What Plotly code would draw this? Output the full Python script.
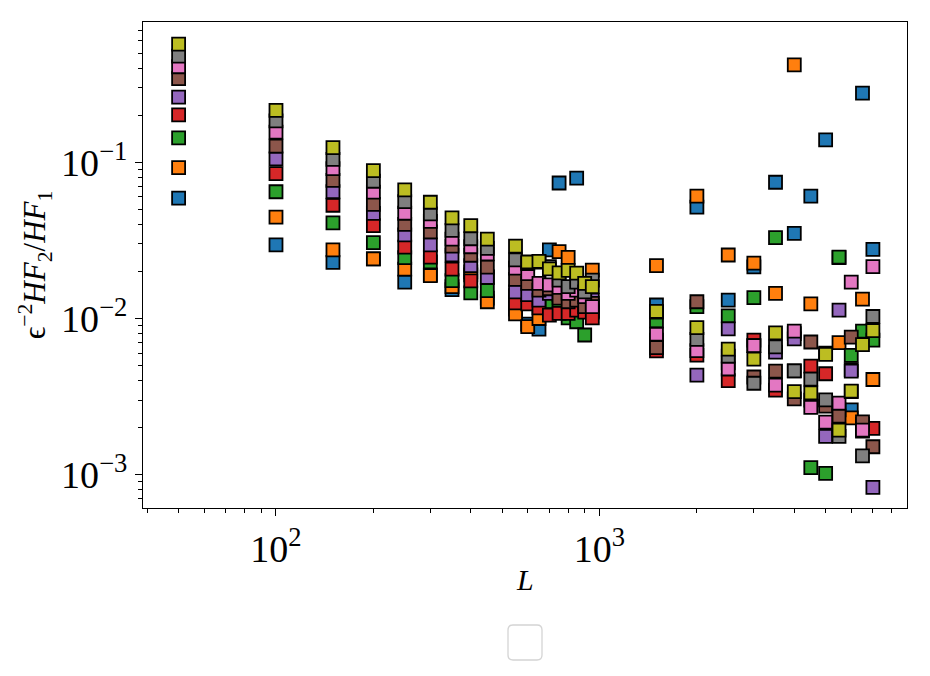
import plotly.graph_objects as go

L = [50, 100, 150, 200, 250, 300, 350, 400, 450, 550, 600, 650, 700, 750, 800, 850, 900, 950,
     1500, 2000, 2500, 3000, 3500, 4000, 4500, 5000, 5500, 6000, 6500, 7000]

blue = [0.0589, 0.0296, 0.0229, 0.0241, 0.0171, 0.0190, 0.0153, 0.0190, 0.0135, 0.0115, 0.0092, 0.00856,
        0.0275, 0.0737, 0.0120, 0.0793, 0.0115, 0.0110,
        0.0122, 0.0517, 0.0131, 0.0214, 0.0745, 0.0351, 0.0608, 0.139, 0.0245, 0.0026, 0.277, 0.0277]
orange = [0.0924, 0.0445, 0.0275, 0.0241, 0.0207, 0.0188, 0.0160, 0.0199, 0.0128, 0.0107, 0.00886, 0.0100,
          0.0110, 0.0268, 0.0246, 0.0125, 0.0150, 0.0204,
          0.0218, 0.0608, 0.0255, 0.0226, 0.0145, 0.42, 0.0124, 0.0060, 0.0070, 0.00231, 0.0133, 0.00407]
green = [0.1435, 0.0648, 0.041, 0.0306, 0.0245, 0.0230, 0.0175, 0.0146, 0.0151, 0.0140, 0.0130, 0.0150,
         0.0128, 0.0120, 0.0101, 0.00953, 0.00784, 0.0112,
         0.00964, 0.0119, 0.0104, 0.0136, 0.0329, 0.0080, 0.00111, 0.00102, 0.0247, 0.0058, 0.0083, 0.00728]
red = [0.201, 0.0845, 0.0531, 0.0393, 0.0286, 0.0247, 0.0207, 0.0174, 0.0185, 0.0126, 0.0124, 0.0117,
       0.0105, 0.0108, 0.0108, 0.0113, 0.0110, 0.0101,
       0.0062, 0.00583, 0.0040, 0.00728, 0.00348, 0.00462, 0.00495, 0.00443, 0.0026, 0.0047, 0.0019, 0.00198]
purple = [0.261, 0.105, 0.0648, 0.0471, 0.0343, 0.0296, 0.0255, 0.0218, 0.0183, 0.0148, 0.0142, 0.0131,
          0.0145, 0.0142, 0.0140, 0.0140, 0.0131, 0.0131,
          0.00728, 0.00434, 0.00857, 0.0067, 0.0061, 0.0074, 0.0030, 0.00176, 0.0113, 0.0046, 0.0021, 0.00083]
brown = [0.343, 0.127, 0.0767, 0.0538, 0.0401, 0.0359, 0.0291, 0.0254, 0.0213, 0.0178, 0.0168, 0.0152,
         0.0155, 0.0135, 0.0128, 0.0131, 0.0119, 0.0125,
         0.0065, 0.0128, 0.0052, 0.00422, 0.0046, 0.00306, 0.00707, 0.00275, 0.00237, 0.00761, 0.00218, 0.00151]
pink = [0.409, 0.156, 0.091, 0.0645, 0.0472, 0.0419, 0.0322, 0.0288, 0.0259, 0.0210, 0.0194, 0.0168,
        0.0164, 0.0158, 0.0145, 0.0152, 0.0138, 0.0119,
        0.00793, 0.00622, 0.00475, 0.0067, 0.00375, 0.0083, 0.00270, 0.00217, 0.00287, 0.0171, 0.00193, 0.0215]
gray = [0.479, 0.184, 0.1045, 0.0756, 0.0560, 0.0467, 0.0367, 0.0324, 0.0281, 0.0237, 0.0225, 0.0230,
        0.0215, 0.0176, 0.0160, 0.0171, 0.0148, 0.0176,
        0.0110, 0.00736, 0.00575, 0.00385, 0.00659, 0.00462, 0.00409, 0.00301, 0.00176, 0.0034, 0.00132, 0.0103]
olive = [0.571, 0.215, 0.124, 0.0884, 0.0665, 0.0555, 0.0441, 0.0393, 0.0322, 0.0291, 0.0230, 0.0232,
         0.0208, 0.0196, 0.0203, 0.0195, 0.0168, 0.0160,
         0.0111, 0.00873, 0.00636, 0.0055, 0.0081, 0.0034, 0.00334, 0.0059, 0.00193, 0.00343, 0.0068, 0.00836]

series = [blue, orange, green, red, purple, brown, pink, gray, olive]
colors = ['#1f77b4', '#ff7f0e', '#2ca02c', '#d62728', '#9467bd', '#8c564b', '#e377c2', '#7f7f7f', '#bcbd22']

x_tickvals = [100, 1000]
x_ticktext = ["10<sup>2</sup>", "10<sup>3</sup>"]
y_tickvals = [0.001, 0.01, 0.1]
y_ticktext = ["10<sup>−3</sup>", "10<sup>−2</sup>", "10<sup>−1</sup>"]

x_minor = [40, 50, 60, 70, 80, 90, 200, 300, 400, 500, 600, 700, 800, 900,
           2000, 3000, 4000, 5000, 6000, 7000, 8000]
y_minor = [0.0007, 0.0008, 0.0009, 0.002, 0.003, 0.004, 0.005, 0.006, 0.007, 0.008, 0.009,
           0.02, 0.03, 0.04, 0.05, 0.06, 0.07, 0.08, 0.09, 0.2, 0.3, 0.4, 0.5, 0.6, 0.7]

fig = go.Figure()
for vals, col in zip(series, colors):
    fig.add_trace(go.Scatter(
        x=L, y=vals, mode="markers",
        marker=dict(symbol="square", size=13, color=col,
                    line=dict(color="black", width=1.8)),
        showlegend=False, cliponaxis=True))

font_family = "Liberation Serif, DejaVu Serif, serif"
axis_common = dict(type="log", showline=True, linecolor="black", linewidth=1.3, mirror=True,
                   ticks="outside", ticklen=7, tickwidth=1.2, tickcolor="black",
                   showgrid=False, zeroline=False,
                   tickfont=dict(family=font_family, size=38, color="black"))

fig.update_xaxes(range=[1.5889, 3.9505], tickmode="array", tickvals=x_tickvals, ticktext=x_ticktext,
                 minor=dict(tickmode="array", tickvals=x_minor, ticks="outside", ticklen=4,
                            tickwidth=1, tickcolor="black", showgrid=False),
                 **axis_common)
fig.update_yaxes(range=[-3.2132, -0.1018], tickmode="array", tickvals=y_tickvals, ticktext=y_ticktext,
                 minor=dict(tickmode="array", tickvals=y_minor, ticks="outside", ticklen=4,
                            tickwidth=1, tickcolor="black", showgrid=False),
                 **axis_common)

# empty legend frame (rounded box)
x0, x1, yt, yb, rx, ry = 0.47775, 0.52225, -0.24074, -0.31276, 0.00654, 0.01029
path = (f"M {x0+rx},{yt} L {x1-rx},{yt} Q {x1},{yt} {x1},{yt-ry} L {x1},{yb+ry} "
        f"Q {x1},{yb} {x1-rx},{yb} L {x0+rx},{yb} Q {x0},{yb} {x0},{yb+ry} "
        f"L {x0},{yt-ry} Q {x0},{yt} {x0+rx},{yt} Z")
fig.add_shape(type="path", path=path, xref="paper", yref="paper",
              line=dict(color="#d4d4d4", width=1.3), fillcolor="white")

fig.add_annotation(text="ϵ<sup>−2</sup><i>HF</i><sub>2</sub>/<i>HF</i><sub>1</sub>",
                   xref="paper", yref="paper", x=-0.141, y=0.5, textangle=-90,
                   xanchor="center", yanchor="middle",
                   showarrow=False, font=dict(family=font_family, size=31, color="black"))
fig.add_annotation(text="<i>L</i>", xref="paper", yref="paper", x=0.5, y=-0.148,
                   xanchor="center", yanchor="middle",
                   showarrow=False, font=dict(family=font_family, size=30, color="black"))

fig.update_layout(width=930, height=676, margin=dict(l=143, r=23, t=22, b=168),
                  paper_bgcolor="white", plot_bgcolor="white", showlegend=False)

fig.write_html("out.html")
